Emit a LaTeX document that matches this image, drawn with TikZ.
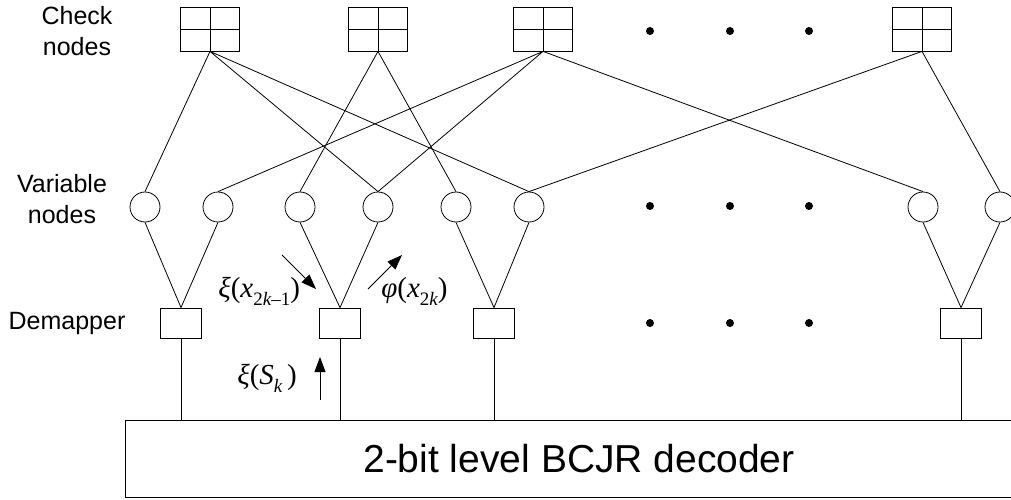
\documentclass[tikz,border=0pt]{standalone}
\usepackage{fontspec}
\setmainfont{Liberation Sans}
\newfontfamily\tmsfont{Liberation Serif}
\usetikzlibrary{arrows.meta,calc}
\newcommand{\subidx}[1]{\raisebox{-0.28em}{\fontsize{19}{19}\selectfont #1}}
\tikzset{
  chknode/.style = {draw, minimum width=59pt, minimum height=44pt, inner sep=0pt,
    path picture={\draw (path picture bounding box.north) -- (path picture bounding box.south)
                        (path picture bounding box.west) -- (path picture bounding box.east);}},
  varnode/.style = {draw, circle, minimum size=30pt, inner sep=0pt},
  demnode/.style = {draw, minimum width=41pt, minimum height=30pt, inner sep=0pt},
  msgarr/.style  = {-{Triangle[length=15pt,width=11pt]}},
  sidelbl/.style = {font=\fontsize{25}{31}\selectfont, align=center},
  msglbl/.style  = {font=\tmsfont\fontsize{29}{30}\selectfont, inner sep=0pt, anchor=base west},
  dotmark/.style = {fill=black, circle, minimum size=8pt, inner sep=0pt}
}

\begin{document}
\begin{tikzpicture}[x=1pt,y=-1pt,line width=0.8pt]
  \useasboundingbox (0,0) rectangle (1011,500);
  % side labels
  \node[sidelbl] (lchk) at (77,31)  {Check\\nodes};
  \node[sidelbl] (lvar) at (62,199) {Variable\\nodes};
  \node[sidelbl] (ldem) at (67,323) {Demapper};
  % check nodes
  \node[chknode] (c1) at (210,29) {};
  \node[chknode] (c2) at (378,29) {};
  \node[chknode] (c3) at (543,29) {};
  \node[chknode] (c4) at (922,29) {};
  % variable nodes
  \foreach \x [count=\i] in {145,218,300,378,456,529,923,1000}
    { \node[varnode] (v\i) at (\x,207) {}; }
  % demappers
  \node[demnode] (d1) at (181,323) {};
  \node[demnode] (d2) at (340,323) {};
  \node[demnode] (d3) at (494,323) {};
  \node[demnode] (d4) at (961,323) {};
  % ellipsis dots
  \foreach \x [count=\i] in {650,730,809}
    { \node[dotmark] (pc\i) at (\x,31) {};
      \node[dotmark] (pv\i) at (\x,206) {};
      \node[dotmark] (pd\i) at (\x,323) {}; }
  % decoder
  \node[draw, minimum width=908pt, minimum height=77pt, inner sep=0pt,
        font=\fontsize{39}{42}\selectfont] (bcjr) at (579,458.5) {2-bit level BCJR decoder};
  % check to variable edges
  \draw (c1.south) -- (v1.north) (c1.south) -- (v4.north) (c1.south) -- (v6.north);
  \draw (c2.south) -- (v3.north) (c2.south) -- (v5.north);
  \draw (c3.south) -- (v2.north) (c3.south) -- (v4.north) (c3.south) -- (v7.north);
  \draw (c4.south) -- (v6.north) (c4.south) -- (v8.north);
  % variable to demapper edges
  \foreach \d/\a/\b in {1/1/2,2/3/4,3/5/6,4/7/8}
    { \draw (v\a.south) -- (d\d.north) -- (v\b.south); }
  % demapper to decoder
  \foreach \d in {1,...,4}
    { \draw (d\d.south) -- (d\d.south |- bcjr.north); }
  % messages
  \coordinate (m1s) at (282,255);
  \coordinate (m1e) at (316,289);
  \coordinate (m2s) at (368,289);
  \coordinate (m2e) at (402,255);
  \coordinate (m3s) at (320,400);
  \coordinate (m3e) at (320,357);
  \draw[msgarr] (m1s) -- (m1e);
  \draw[msgarr] (m2s) -- (m2e);
  \draw[msgarr] (m3s) -- (m3e);
  \node[msglbl] (xix) at (218,297) {\itshape ξ\upshape(\itshape x\subidx{\upshape 2\itshape k\upshape –1}\upshape)};
  \node[msglbl] (phix) at (381,297) {\itshape φ\upshape(\itshape x\subidx{\upshape 2\itshape k}\upshape)};
  \node[msglbl] (xis) at (237,384) {\itshape ξ\upshape(\itshape S\subidx{\itshape k}\upshape\,)};
\end{tikzpicture}
\end{document}
